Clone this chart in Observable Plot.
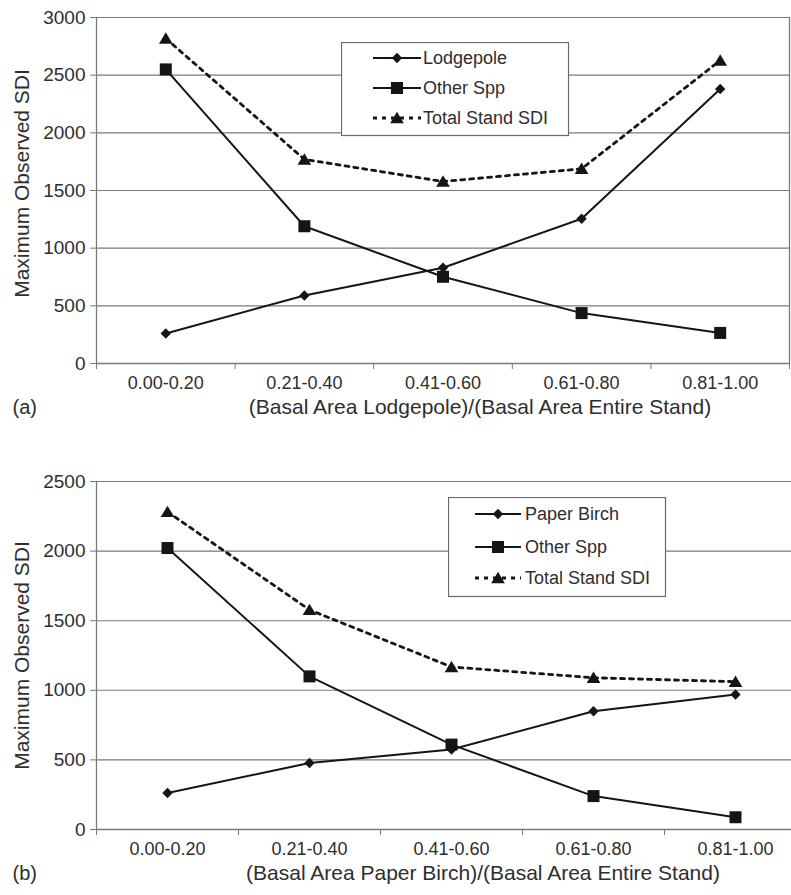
<!DOCTYPE html>
<html>
<head>
<meta charset="utf-8">
<script src="https://cdn.jsdelivr.net/npm/d3@7"></script>
<script src="https://cdn.jsdelivr.net/npm/@observablehq/plot@0.6"></script>
<style>
  html, body { margin: 0; padding: 0; background: #fff; }
  #root { position: relative; width: 791px; height: 895px; overflow: hidden; font-family: "Liberation Sans", Arial, sans-serif; }
  .panel { position: absolute; left: 0; }
  .panel svg { display: block; }
  .legend { position: absolute; }
</style>
</head>
<body>
<div id="root"></div>
<script>
// ---- data ----
const categories = ["0.00-0.20", "0.21-0.40", "0.41-0.60", "0.61-0.80", "0.81-1.00"];
const yTicksA = [0, 500, 1000, 1500, 2000, 2500, 3000];
const yTicksB = [0, 500, 1000, 1500, 2000, 2500];

const seriesNamesA = ["Lodgepole", "Other Spp", "Total Stand SDI"];
const lodgepole = [260, 590, 830, 1255, 2380];
const otherSppA = [2550, 1190, 752, 437, 265];
const totalStandA = [2818, 1770, 1578, 1688, 2628];

const seriesNamesB = ["Paper Birch", "Other Spp", "Total Stand SDI"];
const paperBirch = [262, 478, 575, 850, 970];
const otherSppB = [2022, 1100, 610, 240, 88];
const totalStandB = [2282, 1578, 1168, 1090, 1062];

const xTitleA = "(Basal Area Lodgepole)/(Basal Area Entire Stand)";
const xTitleB = "(Basal Area Paper Birch)/(Basal Area Entire Stand)";
const yTitle = "Maximum Observed SDI";

// ---- custom symbols (size = PI * r^2) ----
const symDiamond = { draw(ctx, size) { const r = Math.sqrt(size / Math.PI); ctx.moveTo(0, -r); ctx.lineTo(r, 0); ctx.lineTo(0, r); ctx.lineTo(-r, 0); ctx.closePath(); } };
const symSquare = { draw(ctx, size) { const r = Math.sqrt(size / Math.PI); ctx.rect(-r, -r, 2 * r, 2 * r); } };
const symTriangle = { draw(ctx, size) { const r = Math.sqrt(size / Math.PI); ctx.moveTo(0, -r); ctx.lineTo(r * 1.1, r * 0.85); ctx.lineTo(-r * 1.1, r * 0.85); ctx.closePath(); } };

const INK = "#151515";
const TEXT = "#2e2e2e";
const GRID = "#7a7a7a";
const FONT = "Liberation Sans, Arial, sans-serif";

const styles = [
  { symbol: symDiamond, r: 5.2, dash: null, sw: 2 },
  { symbol: symSquare, r: 6, dash: null, sw: 2 },
  { symbol: symTriangle, r: 6.2, dash: "4,5", sw: 2.8 }
];

function rows(values) { return values.map((v, i) => ({ i, v })); }

function panel({ top, height, marginTop, marginBottom, marginRight, xRange, yTicks, yMax, series, xTitle, tag, xTitleDx, yTitleDy, border }) {
  const marks = [
    Plot.gridY(yTicks.filter(d => d > 0), { stroke: GRID, strokeOpacity: 1, strokeWidth: 1.1 }),
    Plot.ruleY([0], { stroke: GRID, strokeWidth: 1.3 }),
    Plot.ruleX([-0.5], { stroke: GRID, strokeWidth: 1.3 }),
    Plot.axisY({ ticks: yTicks, tickSize: 6, tickPadding: 5, stroke: GRID, fill: TEXT, fontSize: 19, label: null, tickFormat: d => String(d) }),
    Plot.axisX({ ticks: d3.range(-0.5, 5, 1), tickSize: 6, stroke: GRID, tickFormat: () => "", label: null }),
    Plot.axisX({ ticks: d3.range(0, 5), tickSize: 0, tickPadding: 13, fill: TEXT, fontSize: 18, tickFormat: i => categories[i], label: null }),
    Plot.text([yTitle], { frameAnchor: "left", dx: -74, dy: yTitleDy, rotate: -90, fontSize: 21, fill: TEXT, textAnchor: "middle" }),
    Plot.text([xTitle], { frameAnchor: "bottom", dx: xTitleDx, dy: 50, fontSize: 21, fill: TEXT }),
    Plot.text([tag], { frameAnchor: "bottom-left", dx: -84, dy: 50, fontSize: 20, fill: TEXT, textAnchor: "start" })
  ];
  if (border) marks.push(Plot.ruleX([4.5], { stroke: GRID, strokeWidth: 1.3 }));
  series.forEach((vals, k) => {
    const s = styles[k];
    marks.push(Plot.line(rows(vals), { x: "i", y: "v", stroke: INK, strokeWidth: s.sw, strokeDasharray: s.dash }));
  });
  series.forEach((vals, k) => {
    const s = styles[k];
    marks.push(Plot.dot(rows(vals), { x: "i", y: "v", symbol: s.symbol, r: s.r, fill: INK, stroke: "none" }));
  });
  const chart = Plot.plot({
    width: 791,
    height,
    marginTop,
    marginBottom,
    marginLeft: 96,
    marginRight,
    style: { fontFamily: FONT, background: "white", overflow: "visible" },
    x: { domain: [-0.5, 4.5], range: xRange, axis: null },
    y: { domain: [0, yMax], axis: null },
    marks
  });
  const div = document.createElement("div");
  div.className = "panel";
  div.style.top = top + "px";
  div.appendChild(chart);
  document.getElementById("root").appendChild(div);
}

function legend({ left, top, w, h, names, rowYs, lineX1, lineX2, textX }) {
  const svg = d3.select("#root").append("svg")
    .attr("class", "legend")
    .style("left", left + "px").style("top", top + "px")
    .attr("width", w + 2).attr("height", h + 2);
  svg.append("rect").attr("x", 0.5).attr("y", 0.5).attr("width", w).attr("height", h)
    .attr("fill", "white").attr("stroke", "#6a6a6a").attr("stroke-width", 1.2);
  names.forEach((name, k) => {
    const s = styles[k];
    const y = rowYs[k];
    svg.append("line").attr("x1", lineX1).attr("x2", lineX2).attr("y1", y).attr("y2", y)
      .attr("stroke", INK).attr("stroke-width", s.sw).attr("stroke-dasharray", s.dash);
    svg.append("path").attr("d", d3.symbol(s.symbol, Math.PI * s.r * s.r)())
      .attr("transform", `translate(${(lineX1 + lineX2) / 2},${y})`).attr("fill", INK);
    svg.append("text").attr("x", textX).attr("y", y).attr("dy", "0.35em")
      .attr("font-family", FONT).attr("font-size", 18).attr("fill", TEXT).text(name);
  });
}

panel({
  top: 0, height: 430, marginTop: 17, marginBottom: 67, marginRight: 2, xRange: [96, 789],
  yTicks: yTicksA, yMax: 3000, series: [lodgepole, otherSppA, totalStandA],
  xTitle: xTitleA, tag: "(a)", xTitleDx: 37, yTitleDy: -7, border: true
});
panel({
  top: 430, height: 465, marginTop: 51, marginBottom: 66, marginRight: 0, xRange: [96, 806],
  yTicks: yTicksB, yMax: 2500, series: [paperBirch, otherSppB, totalStandB],
  xTitle: xTitleB, tag: "(b)", xTitleDx: 39, yTitleDy: 0, border: false
});

legend({ left: 341, top: 42, w: 227, h: 93, names: seriesNamesA, rowYs: [16, 46, 76], lineX1: 32, lineX2: 80, textX: 82 });
legend({ left: 448, top: 497, w: 217, h: 99, names: seriesNamesB, rowYs: [17, 50, 81], lineX1: 27, lineX2: 73, textX: 77 });
</script>
</body>
</html>
